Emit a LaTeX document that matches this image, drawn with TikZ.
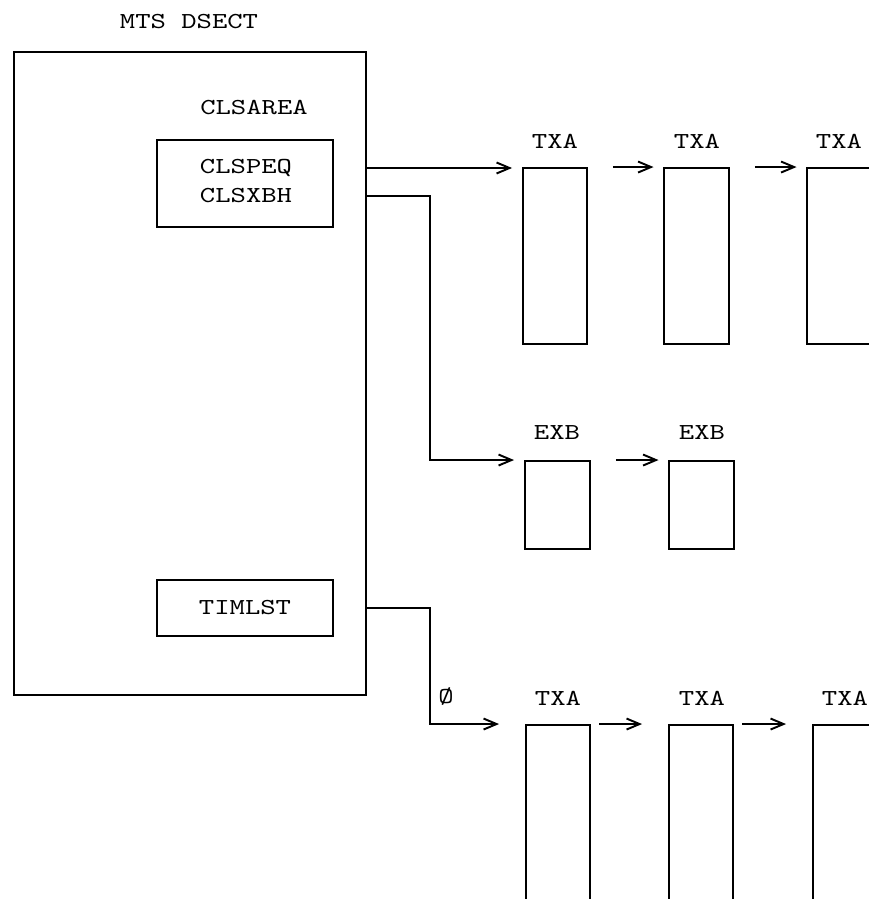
\documentclass[tikz,border=0pt]{standalone}
\usepackage{fontspec}
\usepackage{tikz}
\usetikzlibrary{arrows.meta,positioning,fit,calc}
\newfontfamily\dsectfont{lmmono10-regular.otf}[FakeStretch=1.28]
\tikzset{
  dbox/.style={draw=black,line width=1.1pt,inner sep=0pt,font=\dsectfont\fontsize{13}{15}\selectfont},
  tag/.style={font=\dsectfont\fontsize{13}{15}\selectfont,inner sep=1pt},
  link/.style={-{Straight Barb[length=2.6mm,width=2.2mm]},line width=1.1pt,draw=black},
  chain/.style={link,shorten <=5mm,shorten >=1.9mm},
  hop/.style={link,shorten <=1.7mm,shorten >=5.2mm}
}
\begin{document}
\begin{tikzpicture}[x=0.2mm,y=-0.2mm]
  \useasboundingbox (0,0) rectangle (869,899);
  \clip (0,0) rectangle (869,899);

  % the dsect and its areas
  \node[tag] (title) at (189,22) {MTS DSECT};
  \node[dbox,fit={(14,52) (366,695)}] (dsect) {};
  \node[tag] (area) at (254,108) {CLSAREA};
  \node[dbox,fit={(157,140) (333,227)}] (clsarea) {};
  \node[tag] (peq) at (246,168) {CLSPEQ};
  \node[tag] (xbh) at (246,196) {CLSXBH};
  \node[dbox,fit={(157,580) (333,636)}] (timlst) {};
  \node[tag] (timtext) at (timlst.center) {TIMLST};

  % TXA chain
  \node[dbox,fit={(523,168) (587,344)}] (txa1) {};
  \node[dbox,fit={(664,168) (729,344)}] (txa2) {};
  \node[dbox,fit={(807,168) (872,344)}] (txa3) {};
  \node[tag] (ltxa1) at (555,141) {TXA};
  \node[tag] (ltxa2) at (697,141) {TXA};
  \node[tag] (ltxa3) at (839,141) {TXA};

  % EXB chain
  \node[dbox,fit={(525,461) (590,549)}] (exb1) {};
  \node[dbox,fit={(669,461) (734,549)}] (exb2) {};
  \node[tag] (lexb1) at (557,433) {EXB};
  \node[tag] (lexb2) at (702,433) {EXB};

  % timer TXA chain
  \node[dbox,fit={(526,725) (590,940)}] (btx1) {};
  \node[dbox,fit={(669,725) (733,940)}] (btx2) {};
  \node[dbox,fit={(813,725) (877,940)}] (btx3) {};
  \node[tag] (lbtx1) at (558,698) {TXA};
  \node[tag] (lbtx2) at (702,698) {TXA};
  \node[tag] (lbtx3) at (845,698) {TXA};
  \node[tag] (null) at (446,697) {Ø};

  \coordinate (xbhbend) at (430,0);
  \coordinate (timbend) at (430,0);

  \draw[link] (peq -| dsect.east) -- ([xshift=-2mm]txa1.west |- peq);
  \draw[chain] (txa1.north east) -- (txa2.north west);
  \draw[chain] (txa2.north east) -- (txa3.north west);

  \draw[link] (xbh -| dsect.east) -- (xbh -| xbhbend) |- ([xshift=-2mm]exb1.north west);
  \draw[chain] (exb1.north east) -- (exb2.north west);

  \draw[link] (timtext -| dsect.east) -- (timtext -| timbend) |- ([xshift=-5.2mm]btx1.north west);
  \draw[hop] (btx1.north east) -- (btx2.north west);
  \draw[hop] (btx2.north east) -- (btx3.north west);
\end{tikzpicture}
\end{document}
